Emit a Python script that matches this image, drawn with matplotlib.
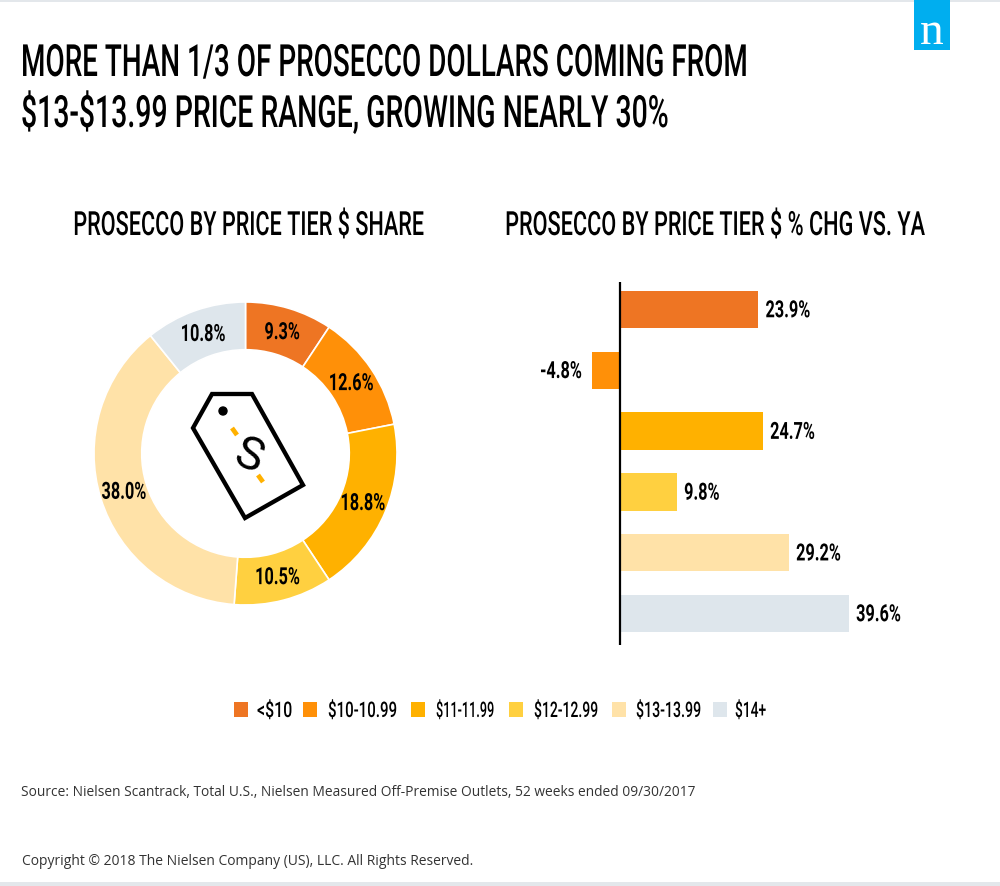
import numpy as np
import matplotlib
matplotlib.use("Agg")
import matplotlib.pyplot as plt
import matplotlib.patheffects as pe
from matplotlib.patches import Polygon, Rectangle, Circle
from matplotlib.text import Text
from matplotlib.transforms import Affine2D, Bbox

tiers = ["<$10", "$10-10.99", "$11-11.99", "$12-12.99", "$13-13.99", "$14+"]
share = [9.3, 12.6, 18.8, 10.5, 38.0, 10.8]
change = [23.9, -4.8, 24.7, 9.8, 29.2, 39.6]
colors = ["#ee7523", "#ff9008", "#ffb100", "#ffd040", "#ffe2a8", "#dee6ec"]

plt.rcParams["font.family"] = ["Roboto", "Liberation Sans", "DejaVu Sans"]


class Squeeze(pe.AbstractPathEffect):
    """ Squeezes a text's glyphs sideways, there is no condensed font installed """

    def __init__(self, text, sx):
        super().__init__()
        self.text = text
        self.sx = sx

    def draw_path(self, renderer, gc, tpath, affine, rgbFace=None):
        x0 = self.text.anchor_x()
        squeeze = Affine2D().translate(-x0, 0).scale(self.sx, 1).translate(x0, 0)
        renderer.draw_path(gc, tpath, affine + squeeze, rgbFace)


class NarrowText(Text):
    def __init__(self, x, y, s, sx=0.55, **kwargs):
        kwargs.setdefault("fontweight", "bold")
        kwargs.setdefault("va", "baseline")
        super().__init__(x, y, s, parse_math=False, clip_on=False, **kwargs)
        self.sx = sx
        self.set_path_effects([Squeeze(self, sx)])

    def anchor_x(self):
        return self.get_transform().transform(self.get_unitless_position())[0]

    def get_window_extent(self, renderer=None, dpi=None):
        box = super().get_window_extent(renderer, dpi)
        x0 = self.anchor_x()
        return Bbox.from_extents(x0 + (box.x0 - x0) * self.sx, box.y0,
                                 x0 + (box.x1 - x0) * self.sx, box.y1)


def narrow(ax, x, y, s, **kwargs):
    t = NarrowText(x, y, s, **kwargs)
    t.set_transform(kwargs.get("transform", ax.transData))
    ax.add_artist(t)
    return t


W, H = 1000, 887
fig = plt.figure(figsize=(W / 100, H / 100), dpi=100)
bg = fig.add_axes([0, 0, 1, 1])
bg.set_xlim(0, W)
bg.set_ylim(H, 0)
bg.axis("off")

# page edges and logo
bg.add_patch(Rectangle((0, 0), W, 3, color="#e3e7eb", lw=0))
bg.add_patch(Rectangle((0, 883), W, 4, color="#e3e7eb", lw=0))
bg.add_patch(Rectangle((914, 0), 36, 51, color="#00aeef", lw=0))
bg.text(932, 44, "n", color="white", fontsize=34, family="Liberation Serif", ha="center", va="baseline")

# titles
narrow(bg, 21, 77, "MORE THAN 1/3 OF PROSECCO DOLLARS COMING FROM", fontsize=32, sx=0.628, fontweight=500)
narrow(bg, 21, 128, "$13-$13.99 PRICE RANGE, GROWING NEARLY 30%", fontsize=32, sx=0.64, fontweight=500)
narrow(bg, 248.5, 236, "PROSECCO BY PRICE TIER $ SHARE", fontsize=24, sx=0.65, ha="center", fontweight=500)
narrow(bg, 715, 236, "PROSECCO BY PRICE TIER $ % CHG VS. YA", fontsize=24, sx=0.651, ha="center", fontweight=500)

# donut
ax = fig.add_axes([94 / W, 1 - 606 / H, 303 / W, 303 / H])
wedges, _ = ax.pie(share, colors=colors, startangle=90, counterclock=False, radius=1,
                   wedgeprops=dict(width=0.315, edgecolor="white", linewidth=1.2))
ax.set_xlim(-1, 1)
ax.set_ylim(-1, 1)
for w, v in zip(wedges, share):
    a = np.deg2rad((w.theta1 + w.theta2) / 2)
    narrow(ax, 0.84 * np.cos(a), 0.84 * np.sin(a) + 0.01, f"{v:.1f}%", ha="center", va="center_baseline",
           fontsize=17, sx=0.69, color="black")

# price tag icon
tag = [(212, 395), (252, 395), (303, 486), (245, 519), (193, 429)]
bg.add_patch(Polygon(tag, closed=True, fill=False, edgecolor="black", lw=3.1, zorder=5))
bg.add_patch(Circle((223, 412), 4, color="black", zorder=5))
bg.plot([232, 237], [429, 436], color="#ffb100", lw=3.4, zorder=5, solid_capstyle="butt")
bg.plot([258, 263], [476, 483], color="#ffb100", lw=3.4, zorder=5, solid_capstyle="butt")
bg.text(248, 456, "S", fontsize=33, rotation=-20, ha="center", va="center", zorder=6)

# bars
ax2 = fig.add_axes([560 / W, 1 - 646 / H, 400 / W, 363 / H])
ypos = np.arange(len(tiers))
ax2.barh(ypos, change, height=0.617, color=colors)
ax2.set_xlim(-10.4, 58.9)
ax2.set_ylim(5.519, -0.452)
ax2.axvline(0, color="black", lw=1.6)
ax2.axis("off")
for y, v in zip(ypos, change):
    off = 1.3 if v > 0 else -1.8
    narrow(ax2, v + off, y - 0.02, f"{v:.1f}%", ha="left" if v > 0 else "right", va="center_baseline",
           fontsize=17, sx=0.69, color="black")

# legend
lx = [234, 303, 411, 509, 612, 713]
tx = [257, 328, 436, 534, 636, 735]
legend_sx = [0.74, 0.7, 0.59, 0.65, 0.66, 0.64]
for x, x2, t, c, sx in zip(lx, tx, tiers, colors, legend_sx):
    bg.add_patch(Rectangle((x, 703), 14, 15, color=c, lw=0))
    narrow(bg, x2, 718, t, fontsize=15.5, sx=sx, fontweight=500)

# footer
bg.text(21, 793, "Source: Nielsen Scantrack, Total U.S., Nielsen Measured Off-Premise Outlets, 52 weeks ended 09/30/2017",
        fontsize=9.92, family="Open Sans", va="center", color="#333333")
bg.text(22, 862, "Copyright © 2018 The Nielsen Company (US), LLC. All Rights Reserved.",
        fontsize=9.98, family="Open Sans", va="center", color="#333333")

fig.savefig("out.png", dpi=100)
